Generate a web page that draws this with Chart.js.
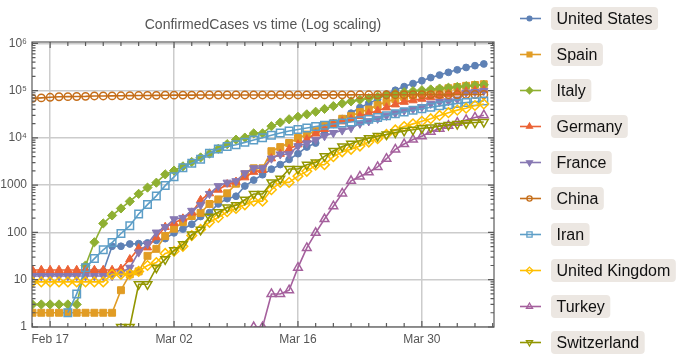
<!DOCTYPE html>
<html lang="en">
<head>
<meta charset="UTF-8">
<title>ConfirmedCases vs time (Log scaling)</title>
<script src="https://cdn.jsdelivr.net/npm/chart.js"></script>
<style>
  html, body { margin: 0; padding: 0; background: #fff; }
</style>
</head>
<body>
<canvas id="casesChart" width="682" height="363"></canvas>

<script>
  // day 0 = Feb 15, day 51 = Apr 6 (daily confirmed cases)
  const unitedStates = [13, 13, 13, 13, 13, 13, 15, 15, 15, 51, 51, 57, 58, 60, 68,
    74, 98, 118, 149, 217, 262, 402, 518, 583, 959,
    1281, 1663, 2179, 2727, 3499, 4632, 6421, 7783, 13747, 19273,
    25600, 33276, 43843, 53736, 65778, 83836, 101657, 121465, 140909, 161831, 188172,
    213242, 243622, 275367, 308650, 336802, 366317];
  const spain = [2, 2, 2, 2, 2, 2, 2, 2, 2, 2, 6, 13, 15, 32, 45,
    84, 120, 165, 222, 259, 400, 500, 673, 1073, 1695,
    2277, 2277, 5232, 6391, 7798, 9942, 11748, 13910, 17963, 20410,
    25374, 28768, 35136, 39885, 49515, 57786, 65719, 73235, 80110, 87956, 95923,
    104118, 112065, 119199, 126168, 131646, 136675];
  const italy = [3, 3, 3, 3, 3, 3, 20, 62, 155, 229, 322, 453, 655, 888, 1128,
    1694, 2036, 2502, 3089, 3858, 4636, 5883, 7375, 9172, 10149,
    12462, 12462, 17660, 21157, 24747, 27980, 31506, 35713, 41035, 47021,
    53578, 59138, 63927, 69176, 74386, 80589, 86498, 92472, 97689, 101739, 105792,
    110574, 115242, 119827, 124632, 128948, 132547];
  const germany = [16, 16, 16, 16, 16, 16, 16, 16, 16, 16, 17, 27, 46, 48, 79,
    130, 159, 196, 262, 482, 670, 799, 1040, 1176, 1457,
    1908, 2078, 3675, 4585, 5795, 7272, 9257, 12327, 15320, 19848,
    22213, 24873, 29056, 32986, 37323, 43938, 50871, 57695, 62095, 66885, 71808,
    77872, 84794, 91159, 96092, 100123, 103374];
  const france = [12, 12, 12, 12, 12, 12, 12, 12, 12, 12, 14, 18, 38, 57, 100,
    130, 191, 204, 288, 380, 656, 959, 1136, 1219, 1794,
    2293, 2293, 3681, 4496, 4532, 6683, 7715, 9124, 10970, 12758,
    14463, 16243, 20123, 22622, 25600, 29551, 33402, 38105, 40708, 45170, 52827,
    57749, 59929, 65202, 90848, 93773, 98963];
  const china = [68347, 70035, 72149, 74185, 74576, 75077, 75550, 77001, 77022, 77241, 77754, 78166, 78600, 78928, 79356,
    79932, 80136, 80261, 80386, 80537, 80690, 80770, 80823, 80860, 80887,
    80921, 80932, 80945, 80977, 81003, 81033, 81058, 81102, 81156, 81250,
    81305, 81435, 81498, 81591, 81661, 81782, 81897, 81999, 82122, 82198, 82279,
    82361, 82432, 82511, 82543, 82602, 82665];
  const iran = [null, null, null, null, 2, 5, 18, 28, 43, 61, 95, 139, 245, 388, 593,
    978, 1501, 2336, 2922, 3513, 4747, 5823, 6566, 7161, 8042,
    9000, 10075, 11364, 12729, 13938, 14991, 16169, 17361, 18407, 19644,
    20610, 21638, 23049, 24811, 27017, 29406, 32332, 35408, 38309, 41495, 44605,
    47593, 50468, 53183, 55743, 58226, 60500];
  const unitedKingdom = [9, 9, 9, 9, 9, 9, 9, 9, 9, 13, 13, 13, 15, 20, 23,
    36, 40, 51, 86, 116, 164, 207, 274, 322, 384,
    459, 459, 802, 1144, 1145, 1551, 1960, 2642, 2716, 4014,
    5067, 5745, 6726, 8164, 9640, 11812, 14745, 17312, 19780, 22453, 25481,
    29865, 34173, 38689, 42477, 48436, 52279];
  const turkey = [null, null, null, null, null, null, null, null, null, null, null, null, null, null, null,
    null, null, null, null, null, null, null, null, null, null,
    1, 1, 5, 5, 6, 18, 47, 98, 192, 359,
    670, 1236, 1529, 1872, 2433, 3629, 5698, 7402, 9217, 10827, 13531,
    15679, 18135, 20921, 23934, 27069, 30217];
  const switzerland = [null, null, null, null, null, null, null, null, null, null, 1, 1, 8, 8, 18,
    27, 42, 56, 90, 114, 214, 268, 337, 374, 491,
    652, 652, 1139, 1359, 2200, 2200, 2700, 3028, 4075, 5294,
    6575, 7474, 8795, 9877, 10897, 11811, 12928, 14076, 14829, 15922, 16605,
    17768, 18827, 19606, 20505, 21100, 21657];

  const seriesNames = ['United States', 'Spain', 'Italy', 'Germany', 'France',
    'China', 'Iran', 'United Kingdom', 'Turkey', 'Switzerland'];
  const seriesValues = [unitedStates, spain, italy, germany, france,
    china, iran, unitedKingdom, turkey, switzerland];

  const xTickDays = [2, 16, 30, 44];
  const xTickLabels = ['Feb 17', 'Mar 02', 'Mar 16', 'Mar 30'];
  const yTickValues = [1, 10, 100, 1000, 1e4, 1e5, 1e6];
  const yTickLabels = ['1', '10', '100', '1000', '10\u2074', '10\u2075', '10\u2076'];

  // styling
  const colors = ['#5E81B5', '#E19C24', '#8FB032', '#EB6235', '#8778B3',
    '#C56E1A', '#5D9EC7', '#FFBF00', '#A5609D', '#929600'];
  const markers = [
    { style: 'circle', r: 3.4, rot: 0, filled: true },
    { style: 'rect', r: 4.9, rot: 0, filled: true },
    { style: 'rectRot', r: 4.6, rot: 0, filled: true },
    { style: 'triangle', r: 4.8, rot: 0, filled: true },
    { style: 'triangle', r: 4.8, rot: 180, filled: true },
    { style: 'circle', r: 3.7, rot: 0, filled: false },
    { style: 'rect', r: 5.3, rot: 0, filled: false },
    { style: 'rectRot', r: 4.8, rot: 0, filled: false },
    { style: 'triangle', r: 5, rot: 0, filled: false },
    { style: 'triangle', r: 5, rot: 180, filled: false }
  ];
  const FONT = '"Liberation Sans", Arial, Helvetica, sans-serif';

  const datasets = seriesNames.map((name, i) => ({
    label: name,
    data: seriesValues[i].map((v, d) => ({ x: d, y: v })),
    borderColor: colors[i],
    backgroundColor: markers[i].filled ? colors[i] : 'rgba(255,255,255,0)',
    borderWidth: 1.6,
    pointStyle: markers[i].style,
    pointRadius: markers[i].r,
    pointRotation: markers[i].rot,
    pointBorderWidth: markers[i].filled ? 1 : 1.5,
    pointBorderColor: colors[i],
    pointBackgroundColor: markers[i].filled ? colors[i] : 'rgba(255,255,255,0)',
    tension: 0,
    order: 10 - i
  }));

  function markerPath(ctx, m, x, y, r) {
    ctx.beginPath();
    if (m.style === 'circle') {
      ctx.arc(x, y, r, 0, Math.PI * 2);
    } else if (m.style === 'rect') {
      const s = r * 0.7;
      ctx.rect(x - s, y - s, 2 * s, 2 * s);
    } else if (m.style === 'rectRot') {
      ctx.moveTo(x, y - r); ctx.lineTo(x + r, y); ctx.lineTo(x, y + r); ctx.lineTo(x - r, y);
      ctx.closePath();
    } else {
      const k = m.rot ? -1 : 1;
      ctx.moveTo(x, y - k * r);
      ctx.lineTo(x + r * 0.87, y + k * r * 0.5);
      ctx.lineTo(x - r * 0.87, y + k * r * 0.5);
      ctx.closePath();
    }
  }

  // frame with inner ticks, title and the boxed legend on the right
  const decorations = {
    id: 'decorations',
    afterDatasetsDraw(chart) {
      const { ctx, chartArea: a, scales: { x, y } } = chart;
      ctx.save();
      ctx.strokeStyle = '#5a5a5a';
      ctx.lineWidth = 1.2;
      ctx.strokeRect(a.left, a.top, a.right - a.left, a.bottom - a.top);

      ctx.beginPath();
      for (let d = 0; d <= 52; d += 2) {
        const px = x.getPixelForValue(d);
        if (px < a.left || px > a.right) continue;
        const len = xTickDays.includes(d) ? 6 : 4;
        ctx.moveTo(px, a.bottom); ctx.lineTo(px, a.bottom - len);
        ctx.moveTo(px, a.top); ctx.lineTo(px, a.top + len);
      }
      for (let e = 0; e <= 6; e++) {
        for (let m = 1; m <= 9; m++) {
          const v = m * Math.pow(10, e);
          if (v > y.max) break;
          const py = y.getPixelForValue(v);
          const len = m === 1 ? 6 : 3.5;
          ctx.moveTo(a.left, py); ctx.lineTo(a.left + len, py);
          ctx.moveTo(a.right, py); ctx.lineTo(a.right - len, py);
        }
      }
      ctx.stroke();

      ctx.fillStyle = '#555';
      ctx.font = '14px ' + FONT;
      ctx.textAlign = 'center';
      ctx.textBaseline = 'alphabetic';
      ctx.fillText('ConfirmedCases vs time (Log scaling)', (a.left + a.right) / 2, 29);

      ctx.font = '16px ' + FONT;
      ctx.textAlign = 'left';
      seriesNames.forEach((name, i) => {
        const cy = 18.5 + 36 * i;
        ctx.strokeStyle = colors[i];
        ctx.lineWidth = 1.6;
        ctx.beginPath();
        ctx.moveTo(520, cy); ctx.lineTo(541, cy);
        ctx.stroke();
        const m = markers[i];
        markerPath(ctx, m, 529.5, cy, m.r * 0.7);
        if (m.filled) { ctx.fillStyle = colors[i]; ctx.fill(); }
        ctx.lineWidth = 1.3;
        ctx.stroke();

        const w = ctx.measureText(name).width;
        ctx.fillStyle = '#ECE7E2';
        ctx.beginPath();
        ctx.roundRect(551, cy - 11.5, w + 11, 23, 4);
        ctx.fill();
        ctx.fillStyle = '#111';
        ctx.fillText(name, 556.5, cy + 5.7);
      });
      ctx.restore();
    }
  };

  new Chart(document.getElementById('casesChart'), {
    type: 'line',
    data: { datasets: datasets },
    options: {
      responsive: false,
      animation: false,
      devicePixelRatio: 1,
      layout: { padding: { top: 42, right: 188, left: 0, bottom: 0 } },
      plugins: {
        legend: { display: false },
        title: { display: false },
        tooltip: { enabled: false }
      },
      scales: {
        x: {
          type: 'linear',
          min: -0.05,
          max: 52.15,
          afterFit: s => { s.height = 36; },
          afterBuildTicks: s => { s.ticks = xTickDays.map(v => ({ value: v })); },
          ticks: {
            autoSkip: false,
            maxRotation: 0,
            padding: 5,
            color: '#555',
            font: { family: FONT, size: 12 },
            callback: (v, i) => xTickLabels[i]
          },
          grid: { color: '#cccccc', lineWidth: 1.5, drawTicks: false },
          border: { display: false }
        },
        y: {
          type: 'logarithmic',
          min: 1,
          max: 1.067e6,
          afterFit: s => { s.width = 32; },
          afterBuildTicks: s => { s.ticks = yTickValues.map(v => ({ value: v })); },
          ticks: {
            autoSkip: false,
            padding: 5,
            color: '#555',
            font: { family: FONT, size: 12 },
            callback: (v, i) => yTickLabels[i]
          },
          grid: { color: '#cccccc', lineWidth: 1.5, drawTicks: false },
          border: { display: false }
        }
      }
    },
    plugins: [decorations]
  });
</script>
</body>
</html>
